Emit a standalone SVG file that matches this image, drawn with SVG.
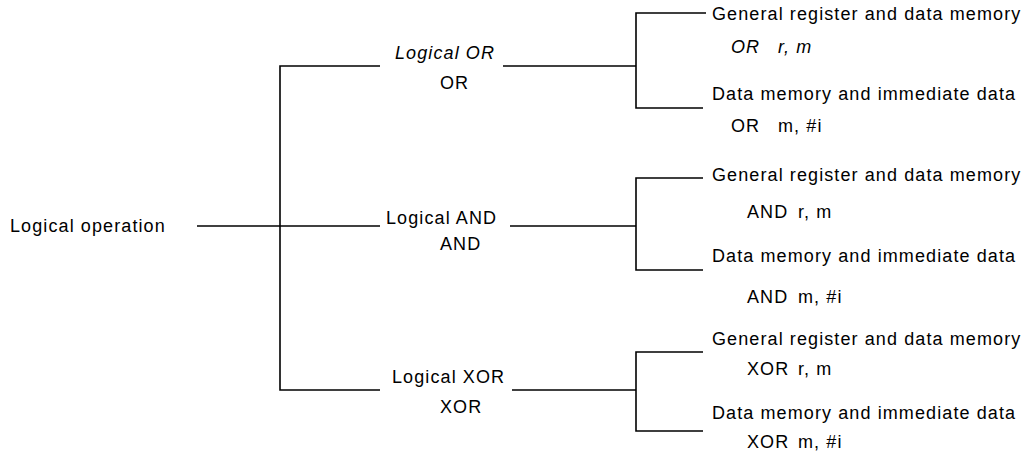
<svg xmlns="http://www.w3.org/2000/svg" width="1029" height="454" viewBox="0 0 1029 454">
<style>
text{font-family:"Liberation Sans",Arial,sans-serif;font-size:18px;letter-spacing:1.1px;fill:#000}
.it{font-style:italic}
.ln{stroke:#000;stroke-width:1.6;fill:none}
</style>
<rect width="1029" height="454" fill="#fff"/>
<g id="connectors">
<path class="ln" d="M197 226H380"/>
<path class="ln" d="M380 66H280V390H380"/>
<path class="ln" d="M503 66H636"/>
<path class="ln" d="M510 226H636"/>
<path class="ln" d="M512 390H636"/>
<path class="ln" d="M706 13H636V108H703"/>
<path class="ln" d="M703 178H636V270H703"/>
<path class="ln" d="M703 352H636V431H703"/>
</g>
<g id="root"><text x="10" y="232">Logical operation</text></g>
<g id="or"><text class="it" x="395" y="59">Logical OR</text><text x="440" y="89">OR</text></g>
<g id="and"><text x="386" y="224">Logical AND</text><text x="440" y="250">AND</text></g>
<g id="xor"><text x="392" y="383">Logical XOR</text><text x="440" y="413">XOR</text></g>
<g id="or-rm"><text x="712" y="20">General register and data memory</text><text class="it" x="731" y="53">OR</text><text class="it" x="778" y="53">r, m</text></g>
<g id="or-mi"><text x="712" y="100">Data memory and immediate data</text><text x="731" y="132">OR</text><text x="778" y="132">m, #i</text></g>
<g id="and-rm"><text x="712" y="181">General register and data memory</text><text x="747" y="218">AND</text><text x="798" y="218">r, m</text></g>
<g id="and-mi"><text x="712" y="262">Data memory and immediate data</text><text x="747" y="303">AND</text><text x="798" y="303">m, #i</text></g>
<g id="xor-rm"><text x="712" y="345">General register and data memory</text><text x="747" y="375">XOR</text><text x="798" y="375">r, m</text></g>
<g id="xor-mi"><text x="712" y="419">Data memory and immediate data</text><text x="747" y="448">XOR</text><text x="798" y="448">m, #i</text></g>
</svg>
